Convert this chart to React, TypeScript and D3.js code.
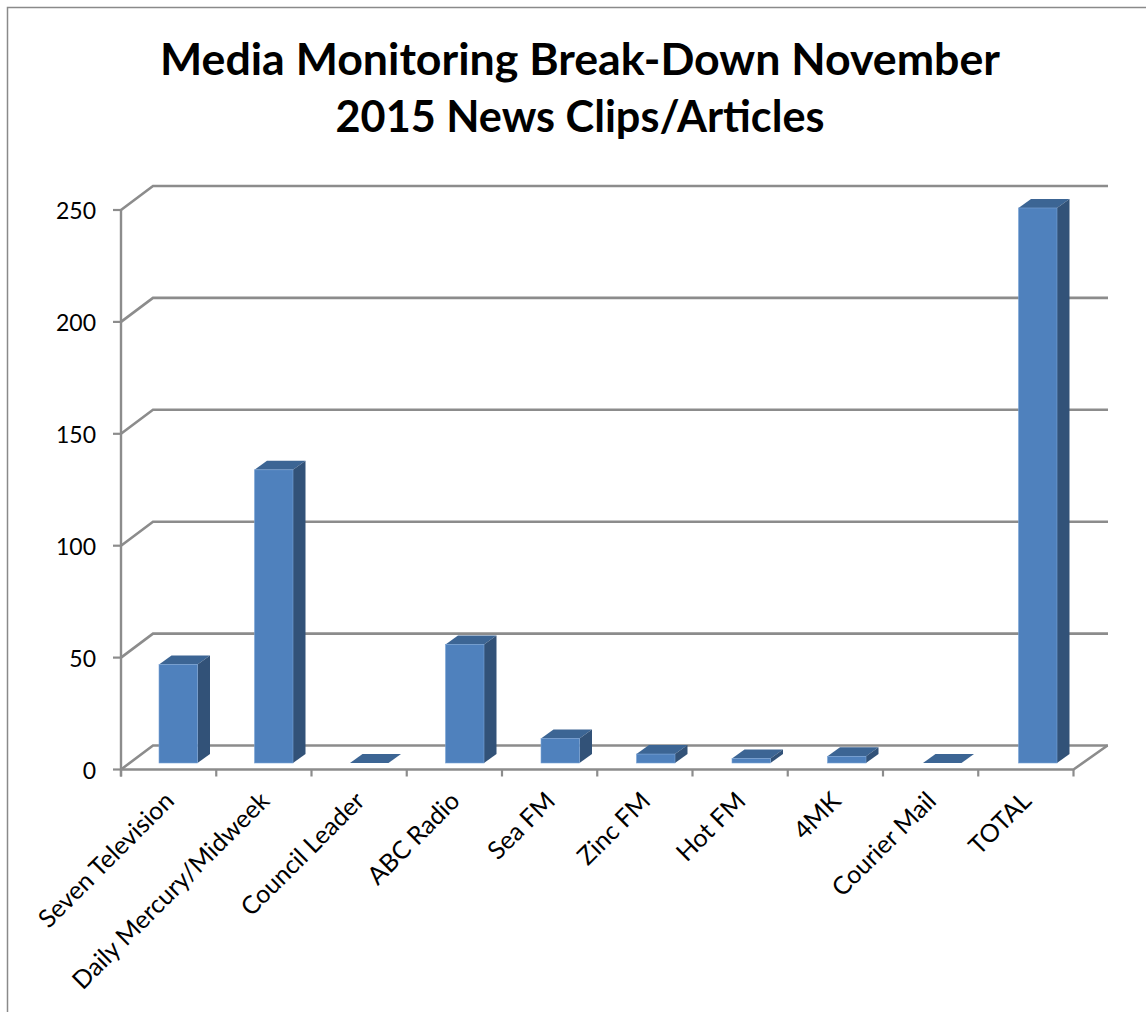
import React from "react";
import * as d3 from "d3";

const categories = ["Seven Television", "Daily Mercury/Midweek", "Council Leader", "ABC Radio", "Sea FM", "Zinc FM", "Hot FM", "4MK", "Courier Mail", "TOTAL"];
const values = [44, 131, 0, 53, 11, 4, 2, 3, 0, 248];
const yTicks = [0, 50, 100, 150, 200, 250];
const titleLines = ["Media Monitoring Break-Down November", "2015 News Clips/Articles"];
const titleWidths = [840, 489];

const W = 1146, H = 1012;
const FONT = "Lato, Carlito, 'Open Sans', sans-serif";
const left = 121, right = 1073.5, y0 = 769.5, y250 = 210;
const backDx = 32, backDy = -24;
const barDx = 12.5, barDy = -9;
const floorDy = -6.5;
const AXIS = "#8c8c8c";

export default function App() {
  const x = d3.scaleBand<string>().domain(categories).range([left, right]);
  const barX = d3.scalePoint<string>().domain(categories).range([159, 1018.5]);
  const y = d3.scaleLinear().domain([0, 250]).range([y0, y250]);
  const barW = 38.5;
  const poly = (pts: number[][]) => d3.line()(pts as [number, number][]) + "Z";
  const edges = [...categories.map((c) => x(c)!), right];

  return (
    <svg width={W} height={H} viewBox={`0 0 ${W} ${H}`} style={{ position: "absolute", left: 0, top: 0, display: "block", background: "#fff" }}>
      <path d={`M${W},7.5H7.5V${H}`} fill="none" stroke="#8a8a8a" strokeWidth={1.5} />
      {titleLines.map((t, i) => (
        <text key={t} x={580} y={75 + i * 57} textAnchor="middle" textLength={titleWidths[i]} lengthAdjust="spacingAndGlyphs" fontFamily={FONT} fontWeight={700} fontSize={44.7} fill="#000">{t}</text>
      ))}
      {yTicks.map((t) => (
        <g key={t}>
          <path d={`M${left},${y(t)}L${left + backDx},${y(t) + backDy}H${1108}`} fill="none" stroke={AXIS} strokeWidth={2.6} />
          <line x1={left - 8} x2={left} y1={y(t)} y2={y(t)} stroke={AXIS} strokeWidth={2.2} />
          <text x={96} y={y(t) + 9} textAnchor="end" fontFamily={FONT} fontSize={23} fill="#000">{t}</text>
        </g>
      ))}
      <line x1={left} x2={left} y1={y250} y2={y0 + 7} stroke={AXIS} strokeWidth={2.4} />
      <path d={`M${left},${y0}H${right}L${right + backDx + 2},${y0 + backDy}`} fill="none" stroke={AXIS} strokeWidth={2.6} />
      {edges.map((e, i) => (
        <line key={i} x1={e} x2={e} y1={y0} y2={y0 + 7} stroke={AXIS} strokeWidth={2.2} />
      ))}
      {categories.map((c, i) => {
        const bx = barX(c)!;
        const base = y0 + floorDy;
        const top = y(values[i]) + floorDy;
        const d = values[i] === 0;
        return (
          <g key={c}>
            <path d={poly([[bx, top], [bx + barDx, top + barDy], [bx + barW + barDx, top + barDy], [bx + barW, top]])} fill="#3c6594" />
            {!d && <path d={poly([[bx + barW, top], [bx + barW + barDx, top + barDy], [bx + barW + barDx, base + barDy], [bx + barW, base]])} fill="#325278" />}
            {!d && <rect x={bx} y={top} width={barW} height={base - top} fill="#4f81bd" stroke="#7ba3d6" strokeWidth={0.6} />}
            <text transform={`translate(${x(c)! + x.bandwidth() / 2 + 7},${y0 + 33}) rotate(-45)`} textAnchor="end" fontFamily={FONT} fontSize={25} fill="#000">{c}</text>
          </g>
        );
      })}
    </svg>
  );
}
